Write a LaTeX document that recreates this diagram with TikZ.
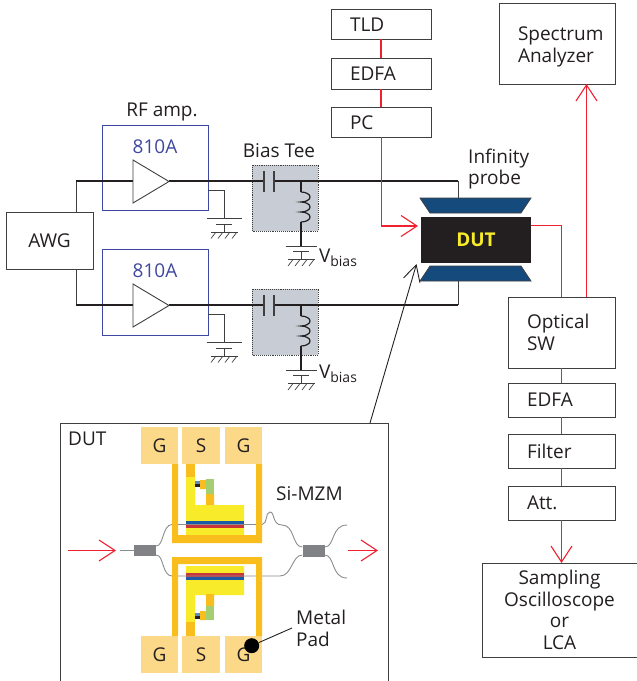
\documentclass[tikz,border=0pt]{standalone}
\usepackage{fontspec}
\setmainfont{Open Sans}
\usepackage{tikz}
\usetikzlibrary{calc,arrows.meta}
\definecolor{ink}{HTML}{231F20}
\definecolor{rim}{HTML}{3F3F3F}
\definecolor{redline}{HTML}{F0202E}
\definecolor{ampblue}{HTML}{3F48A0}
\definecolor{teegray}{HTML}{C8CCD4}
\definecolor{probeblue}{HTML}{154A7C}
\definecolor{padtan}{HTML}{FBD988}
\definecolor{railor}{HTML}{F9BE1E}
\definecolor{armyel}{HTML}{F8EC2A}
\definecolor{leafgr}{HTML}{A3CF70}
\definecolor{stripeb}{HTML}{1B5AA6}
\definecolor{striper}{HTML}{C8353A}
\definecolor{guide}{HTML}{8A8C8E}
\definecolor{splitgr}{HTML}{808285}
\tikzset{
  lab/.style={text=ink, font=\fontsize{19}{21.5}\selectfont, inner sep=0pt},
  box/.style={draw=rim, line width=0.9pt, fill=white, inner xsep=0pt, inner ysep=0pt, text=ink, font=\fontsize{19}{21.5}\selectfont},
  boxl/.style={box, align=left, inner xsep=19pt, text width=#1},
  amp/.style={draw=ampblue, line width=0.9pt},
  thin/.style={draw=rim, line width=0.9pt},
  feed/.style={draw=ink, line width=1.8pt},
  opt/.style={draw=redline, line width=1.3pt},
  optarrow/.style={opt, -{Straight Barb[length=16pt,width=21pt,line width=1.1pt]}},
  pad/.style={fill=padtan, draw=none, minimum width=37.5pt, minimum height=37.5pt, inner sep=0pt, text=ink, font=\fontsize{19}{21.5}\selectfont},
  wg/.style={draw=guide, line width=0.9pt},
  split/.style={fill=splitgr, draw=none, minimum width=22pt, minimum height=11.5pt, inner sep=0pt},
}
\begin{document}
\begin{tikzpicture}[x=1pt,y=-1pt]
  \useasboundingbox (0,0) rectangle (637,681);
  % instrument boxes
  \node[box,minimum width=87pt,minimum height=57pt] (awg) at (49.5,240.5) {AWG};
  \node[boxl=62pt,minimum height=30pt] (tld) at (381,24) {\rule{0pt}{15pt}TLD};
  \node[boxl=62pt,minimum height=31pt] (edfaA) at (381,73.5) {EDFA};
  \node[boxl=62pt,minimum height=30pt] (pc) at (381,122) {\rule{0pt}{15pt}PC};
  \node[boxl=78pt,minimum height=81pt] (sa) at (557,43.5) {\rule{0pt}{21pt}Spectrum\\Analyzer};
  \node[boxl=69pt,minimum height=71pt] (sw) at (561.5,332.5) {Optical\\SW};
  \node[boxl=69pt,minimum height=34pt] (edfaB) at (561.5,400) {EDFA};
  \node[boxl=69pt,minimum height=34pt] (filt) at (561.5,451) {\rule{0pt}{15pt}Filter};
  \node[boxl=69pt,minimum height=34pt] (att) at (561.5,503) {Att.};
  \node[box,align=center,minimum width=155pt,minimum height=94pt] (scope) at (559.5,610) {Sampling\\Oscilloscope\\or\\LCA};

  % RF amplifiers
  \draw[amp] (102,125) rectangle (208,210);
  \draw[amp] (102,249) rectangle (208,335);
  \node[lab,text=ampblue] (ampA) at (155,147) {810A};
  \node[lab,text=ampblue] (ampB) at (155,271) {810A};
  \node[lab] (rfamp) at (162,112) {RF amp.};

  % bias tees
  \fill[teegray] (252,165) rectangle (318,231);
  \draw[rim,densely dotted,line width=0.9pt] (252,165) rectangle (318,231);
  \fill[teegray] (252,289) rectangle (318,355);
  \draw[rim,densely dotted,line width=0.9pt] (252,289) rectangle (318,355);
  \node[lab] (tee) at (279,151) {Bias Tee};

  % probes and device
  \coordinate (awgT) at (76,212);
  \coordinate (awgB) at (76,269);
  \coordinate (cornT) at (76,181);
  \coordinate (cornB) at (76,305);
  \coordinate (probeT) at (458,198);
  \coordinate (probeB) at (458,281);
  \draw[thin] (awgT)--(cornT);
  \draw[thin] (awgB)--(cornB);
  \draw[feed] (cornT)--(133,181) (169,181)--(264,181) (274,181)--(458,181);
  \draw[feed] (cornB)--(133,305) (169,305)--(264,305) (274,305)--(458,305);
  \draw[thin] (458,181)--(probeT);
  \draw[thin] (458,305)--(probeB);
  \foreach \Y in {0,124} {
    \begin{scope}[yshift=-\Y pt]
      % amplifier triangle
      \draw[thin,fill=white] (133,160)--(169,181.5)--(133,203)--cycle;
      % capacitor
      \draw[rim,line width=1.2pt] (264,171)--(264,192) (274,171)--(274,192);
      % inductor branch
      \draw[feed] (301,181)--(301,192);
      \draw[feed,line width=1.2pt] (301,192) arc[start angle=-90,end angle=90,x radius=9,y radius=5]
        arc[start angle=-90,end angle=90,x radius=9,y radius=5]
        arc[start angle=-90,end angle=90,x radius=9,y radius=5];
      \draw[feed] (301,222)--(301,246);
      % side branch at the amplifier
      \draw[thin] (208,190.5)--(224,190.5)--(224,218.5);
    \end{scope}
  }
  % grounds
  \foreach \X/\Y/\W in {224/218.5/17.5,224/342.5/17.5,301/246/15.5,301/370/15.5} {
    \draw[rim,line width=0.9pt] (\X-\W,\Y)--(\X+\W,\Y);
    \draw[rim,line width=0.9pt] (\X-8,\Y+5.5)--(\X+8,\Y+5.5);
    \draw[rim,line width=0.9pt] (\X,\Y+5.5)--(\X,\Y+13.5);
    \draw[rim,line width=0.9pt] (\X-13,\Y+13.5)--(\X+14,\Y+13.5);
    \foreach \D in {-8,-1,6,13}
      \draw[rim,line width=0.7pt] (\X+\D,\Y+13.5)--(\X+\D-5,\Y+20);
  }
  \node[lab] (vbiasA) at (338,258) {V\raisebox{-4pt}{\fontsize{14}{14}\selectfont bias}};
  \node[lab] (vbiasB) at (338,374) {V\raisebox{-4pt}{\fontsize{14}{14}\selectfont bias}};

  \draw[rim,fill=probeblue,line width=0.8pt] (420,198)--(531,198)--(521,213)--(430,213)--cycle;
  \draw[rim,fill=probeblue,line width=0.8pt] (430,266)--(521,266)--(531,281)--(420,281)--cycle;
  \node[fill=ink,minimum width=110pt,minimum height=46pt,inner sep=0pt,text=armyel,font=\fontsize{19}{21.5}\selectfont\bfseries] (dut) at (476,240) {DUT};
  \node[lab,align=left,anchor=west] (probe) at (468,169) {Infinity\\probe};

  % optical paths
  \coordinate (dutOut) at (531,225.5);
  \coordinate (swIn) at (561.5,297);
  \coordinate (swOut) at (586.5,297);
  \draw[opt] (tld)--(edfaA);
  \draw[opt] (edfaA)--(pc);
  \draw[optarrow] (381.5,137)--(381.5,226)--(418,226);
  \draw[opt] (dutOut)--(dutOut -| swIn)--(swIn);
  \draw[opt] (sw.south)--(edfaB.north);
  \draw[opt] (edfaB)--(filt);
  \draw[opt] (filt)--(att);
  \draw[optarrow] (att.south)--(561.5,563);
  \draw[optarrow] (swOut)--(586.5,84);

  % device inset
  \coordinate (insetN) at (370,423);
  \draw[rim,line width=0.9pt] (60,681)--(60,423)--(388,423)--(388,681);
  \draw[draw=ink,line width=0.9pt,-{Straight Barb[length=16pt,width=17pt,line width=0.9pt]}] (insetN)--(416.5,264);
  \node[lab,anchor=west] (dutlab) at (68,439) {DUT};
  \foreach \N/\X/\T in {gA/159.5/G,sA/201/S,gB/243.5/G} {
    \node[pad] (\N) at (\X,445.5) {\raisebox{-6pt}{\T}};
  }
  \foreach \N/\X/\T in {gC/159.5/G,sB/201/S,gD/243.5/G} {
    \node[pad] (\N) at (\X,654.5) {\raisebox{-6pt}{\T}};
  }
  % upper arm
  \fill[armyel] (186,477) rectangle (195,505) (186,505) rectangle (244,535);
  \fill[stripeb] (186,520.5) rectangle (244,524.5);
  \fill[striper] (186,524.5) rectangle (244,528);
  \fill[railor] (186,464) rectangle (195,477);
  \fill[railor] (200,480) rectangle (206,489) (206,494) rectangle (214,505);
  \fill[leafgr] (206,479) rectangle (214,494);
  \fill[stripeb!70] (195,481) rectangle (200,484);
  \fill[ink] (195,484) rectangle (200,486.5);
  % lower arm
  \fill[armyel] (186,566) rectangle (244,595) (186,595) rectangle (195,622);
  \fill[striper] (186,573) rectangle (244,576.5);
  \fill[stripeb] (186,576.5) rectangle (244,580);
  \fill[railor] (186,622) rectangle (195,636);
  \fill[railor] (206,594) rectangle (214,606) (200,611) rectangle (206,620);
  \fill[leafgr] (206,606) rectangle (214,620);
  \fill[stripeb!70] (195,613) rectangle (200,616);
  \fill[ink] (195,616) rectangle (200,619);
  % waveguides
  \node[split] (spA) at (145,550.5) {};
  \node[split] (spB) at (313.5,551) {};
  \draw[wg] (120,550.5)--(spA.west);
  \draw[wg] (spA.east |- 0,546) .. controls (164,546) and (162,525) .. (172,524.5)--(262,524.5)
    .. controls (268,524) and (265,512) .. (270,512) .. controls (275,512) and (272,525) .. (282,525)
    .. controls (295,525) and (292,547) .. (spB.west |- 0,547);
  \draw[wg] (spA.east |- 0,555) .. controls (164,555) and (162,576) .. (172,576)--(280,576)
    .. controls (292,576) and (292,555) .. (spB.west |- 0,555);
  \draw[wg] (spB.east |- 0,547) .. controls (335,547) and (331,525) .. (347,525);
  \draw[wg] (spB.east |- 0,555) .. controls (335,555) and (331,578) .. (347,578);
  % ground rails
  \fill[railor] (172,464)--(178,464)--(178,535)--(256,535)--(256,464)--(262,464)--(262,543)--(172,543)--cycle;
  \fill[railor] (172,636)--(178,636)--(178,564)--(256,564)--(256,636)--(262,636)--(262,557)--(172,557)--cycle;
  \coordinate (arrA) at (68,550.5);
  \coordinate (arrB) at (116,550.5);
  \coordinate (arrC) at (348,550.5);
  \coordinate (arrD) at (378,550.5);
  \draw[optarrow] (arrA)--(arrB);
  \draw[optarrow] (arrC)--(arrD);
  \node[lab,anchor=west] (mzm) at (276,494) {Si-MZM};
  \node[lab,align=left,anchor=west] (metal) at (296,628.5) {Metal\\Pad};
  \node[circle,fill=black,minimum size=15pt,inner sep=0pt] (dot) at (251.7,645.7) {};
  \draw[ink,line width=0.9pt] (dot)--(292,628);
\end{tikzpicture}
\end{document}
